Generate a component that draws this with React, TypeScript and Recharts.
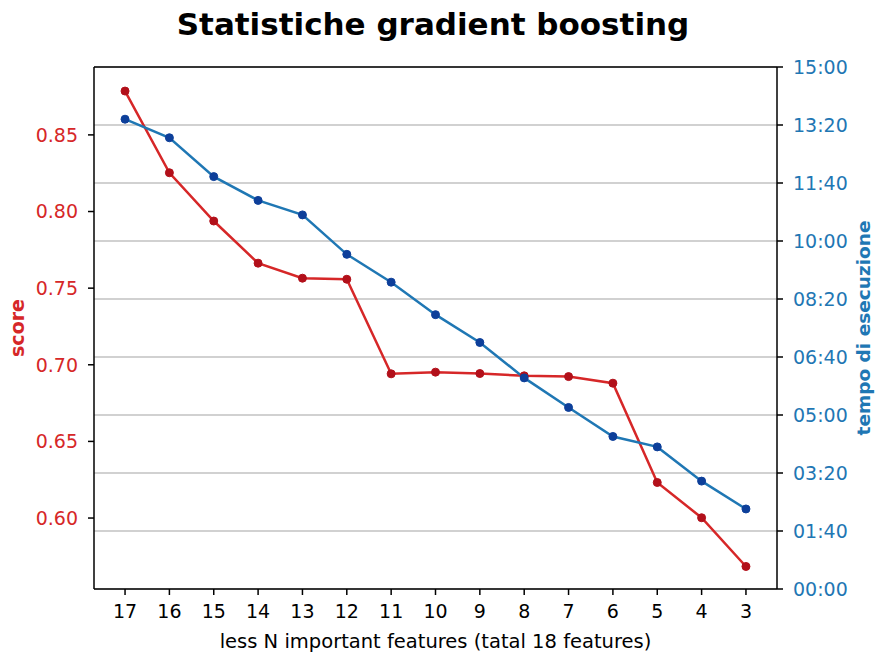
import React from 'react';
import {
  LineChart, Line, XAxis, YAxis, CartesianGrid, ReferenceLine, Label,
} from 'recharts';

// values
const features = [17, 16, 15, 14, 13, 12, 11, 10, 9, 8, 7, 6, 5, 4, 3];
const scores = [0.8786, 0.8253, 0.7938, 0.7663, 0.7565, 0.7558, 0.6941, 0.6952, 0.6943, 0.6928, 0.6923, 0.688, 0.6232, 0.6002, 0.5684];
// execution time in seconds
const times = [810, 778, 711, 670, 645, 577, 529, 473, 425, 364, 313, 263, 245, 186, 138];

const scoreTicks = [0.6, 0.65, 0.7, 0.75, 0.8, 0.85];
const timeTicks = [0, 100, 200, 300, 400, 500, 600, 700, 800, 900];

const RED = '#d62728';
const BLUE = '#1f77b4';
const FONT = 'DejaVu Sans, sans-serif';

const data = features.map((f, i) => ({ feature: f, score: scores[i], time: times[i] }));

const mmss = (s: number) => {
  const m = Math.floor(s / 60);
  const r = Math.round(s % 60);
  return `${String(m).padStart(2, '0')}:${String(r).padStart(2, '0')}`;
};

export default function App() {
  return (
    <div style={{ position: 'absolute', left: 0, top: 0, width: 875, height: 652, background: '#fff', fontFamily: FONT }}>
      <div style={{
        position: 'absolute', left: 0, width: 866, top: 6, textAlign: 'center',
        fontSize: 31, fontWeight: 'bold', color: '#000', lineHeight: 'normal',
      }}>
        Statistiche gradient boosting
      </div>
      <LineChart width={875} height={652} data={data} margin={{ top: 67, right: 0, bottom: 0, left: 0 }}>
        <CartesianGrid yAxisId="right" vertical={false} stroke="#c2c2c2" strokeWidth={1.5} />
        <XAxis
          dataKey="feature" type="number" domain={[2.3, 17.7]} reversed ticks={features}
          interval={0} height={63} tickSize={6} tickMargin={10} stroke="#000" strokeWidth={1.5}
          tick={{ fill: '#000', fontSize: 19, fontFamily: FONT }}
        >
          <Label value="less N important features (tatal 18 features)" position="insideBottom" offset={4}
            style={{ fill: '#000', fontSize: 19.5, fontFamily: FONT }} />
        </XAxis>
        <YAxis
          yAxisId="left" type="number" domain={[0.5537, 0.8943]} ticks={scoreTicks} width={94}
          tickSize={6} tickMargin={10} stroke="#000" strokeWidth={1.5} allowDataOverflow
          tickFormatter={(v: number) => v.toFixed(2)}
          tick={{ fill: RED, fontSize: 19, fontFamily: FONT }}
        >
          <Label value="score" angle={-90} position="insideLeft" offset={17}
            style={{ fill: RED, fontSize: 19, fontWeight: 'bold', fontFamily: FONT, textAnchor: 'middle' }} />
        </YAxis>
        <YAxis
          yAxisId="right" orientation="right" type="number" domain={[0, 900]} ticks={timeTicks} width={98}
          tickSize={6} tickMargin={10} stroke="#000" strokeWidth={1.5} tickFormatter={mmss}
          tick={{ fill: BLUE, fontSize: 19, fontFamily: FONT }}
        >
          <Label value="tempo di esecuzione" angle={-90} position="insideRight" offset={12}
            style={{ fill: BLUE, fontSize: 18.5, fontWeight: 'bold', fontFamily: FONT, textAnchor: 'middle' }} />
        </YAxis>
        <ReferenceLine yAxisId="right" y={900} stroke="#000" strokeWidth={1.5} />
        <Line yAxisId="left" dataKey="score" stroke={RED} strokeWidth={2.5}
          dot={{ r: 4, fill: '#b2101a', stroke: '#b2101a', strokeWidth: 1 }} isAnimationActive={false} />
        <Line yAxisId="right" dataKey="time" stroke={BLUE} strokeWidth={2.5}
          dot={{ r: 4, fill: '#0d3f9a', stroke: '#0d3f9a', strokeWidth: 1 }} isAnimationActive={false} />
      </LineChart>
    </div>
  );
}
